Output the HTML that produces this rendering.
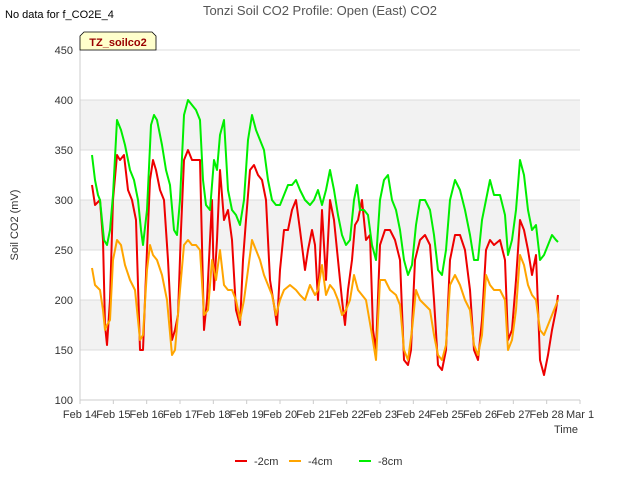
<!DOCTYPE html>
<html><head><meta charset="utf-8"><style>body{margin:0;background:#fff}svg{font-family:"Liberation Sans",sans-serif}</style></head>
<body>
<svg id="chart" width="640" height="480" xmlns="http://www.w3.org/2000/svg">
<text x="5" y="18" font-size="11" fill="#000">No data for f_CO2E_4</text>
<text x="320" y="15" font-size="13" fill="#555" text-anchor="middle">Tonzi Soil CO2 Profile: Open (East) CO2</text>
<g id="bands"></g>
<g id="axes"></g>
<g id="series"></g>
<g><path d="M80,50 L80,36 L84,32 L152,32 L156,36 L156,50 Z" fill="#ffffcc" stroke="#000" stroke-width="0.8"/><text x="118" y="46" font-size="11" font-weight="bold" fill="#990000" text-anchor="middle">TZ_soilco2</text></g>
<text transform="translate(18,225) rotate(-90)" font-size="11" fill="#333" text-anchor="middle">Soil CO2 (mV)</text>
<text x="566" y="433" font-size="11" fill="#333" text-anchor="middle">Time</text>
<g id="legend"></g>
</svg>
<script>
const yTicks=[100,150,200,250,300,350,400,450];
const xTickLabels=["Feb 14","Feb 15","Feb 16","Feb 17","Feb 18","Feb 19","Feb 20","Feb 21","Feb 22","Feb 23","Feb 24","Feb 25","Feb 26","Feb 27","Feb 28","Mar 1"];
const seriesNames=["-2cm","-4cm","-8cm"];
const red=[[.36,315],[.45,295],[.6,300],[.69,260],[.75,175],[.81,155],[.9,200],[.99,300],[1.11,345],[1.2,340],[1.32,345],[1.44,310],[1.56,300],[1.68,280],[1.8,150],[1.89,150],[2.01,250],[2.1,320],[2.19,340],[2.28,330],[2.4,310],[2.52,300],[2.64,240],[2.76,160],[2.85,170],[2.94,185],[3.03,270],[3.12,340],[3.24,350],[3.36,340],[3.48,340],[3.6,340],[3.72,170],[3.81,200],[3.9,260],[3.96,300],[4.02,210],[4.11,260],[4.2,330],[4.32,280],[4.44,290],[4.56,260],[4.68,190],[4.8,175],[4.89,240],[4.98,280],[5.1,330],[5.22,335],[5.34,325],[5.46,320],[5.58,300],[5.7,220],[5.82,195],[5.91,175],[6,230],[6.12,270],[6.24,270],[6.36,290],[6.48,300],[6.6,270],[6.75,230],[6.84,250],[6.96,270],[7.05,255],[7.14,200],[7.26,290],[7.38,220],[7.5,300],[7.62,280],[7.74,240],[7.86,200],[7.95,175],[8.04,210],[8.16,240],[8.25,275],[8.34,280],[8.46,300],[8.58,260],[8.7,265],[8.79,170],[8.88,150],[9,255],[9.15,270],[9.3,270],[9.45,260],[9.6,240],[9.72,140],[9.84,135],[9.93,150],[10.05,240],[10.2,260],[10.35,265],[10.5,255],[10.62,200],[10.74,135],[10.86,130],[10.98,150],[11.1,240],[11.25,265],[11.4,265],[11.55,250],[11.7,210],[11.82,150],[11.94,140],[12.06,180],[12.18,250],[12.3,260],[12.42,255],[12.6,260],[12.75,240],[12.84,160],[12.96,170],[13.08,220],[13.2,280],[13.32,270],[13.44,250],[13.56,225],[13.68,245],[13.8,140],[13.92,125],[14.04,145],[14.16,170],[14.28,190],[14.34,205]];
const orange=[[.36,232],[.45,215],[.6,210],[.69,190],[.75,170],[.81,175],[.9,180],[.99,240],[1.11,260],[1.23,255],[1.35,235],[1.5,220],[1.65,210],[1.8,160],[1.89,165],[2.01,230],[2.1,255],[2.19,245],[2.31,240],[2.46,225],[2.61,200],[2.76,145],[2.85,150],[3,210],[3.12,255],[3.24,260],[3.36,255],[3.48,255],[3.6,250],[3.72,185],[3.84,190],[3.96,240],[4.08,220],[4.2,250],[4.32,215],[4.44,210],[4.56,210],[4.68,200],[4.8,180],[4.92,200],[5.04,230],[5.16,260],[5.28,250],[5.4,240],[5.52,225],[5.64,215],[5.76,205],[5.88,185],[6,200],[6.12,210],[6.3,215],[6.48,210],[6.6,205],[6.75,200],[6.9,215],[7.05,205],[7.14,210],[7.26,235],[7.38,205],[7.5,215],[7.62,210],[7.74,200],[7.86,185],[7.98,190],[8.1,200],[8.22,225],[8.34,210],[8.46,205],[8.58,200],[8.76,165],[8.88,140],[9,220],[9.15,220],[9.3,210],[9.48,205],[9.6,195],[9.72,150],[9.84,140],[9.96,170],[10.08,210],[10.2,200],[10.35,195],[10.5,190],[10.62,165],[10.74,145],[10.86,140],[10.98,155],[11.1,215],[11.25,225],[11.4,215],[11.55,200],[11.7,190],[11.82,155],[11.94,145],[12.06,165],[12.18,225],[12.3,215],[12.42,210],[12.6,210],[12.75,200],[12.84,150],[12.96,160],[13.08,190],[13.2,245],[13.32,235],[13.44,215],[13.56,205],[13.68,200],[13.8,170],[13.92,165],[14.04,175],[14.16,185],[14.28,195],[14.34,200]];
const green=[[.36,345],[.45,320],[.54,305],[.6,300],[.72,260],[.81,255],[.9,270],[.99,305],[1.11,380],[1.23,370],[1.35,355],[1.5,330],[1.62,320],[1.74,300],[1.83,270],[1.89,255],[2.01,290],[2.13,375],[2.22,385],[2.31,380],[2.46,355],[2.58,330],[2.7,315],[2.82,270],[2.91,265],[3,300],[3.12,385],[3.24,400],[3.36,395],[3.48,390],[3.6,380],[3.69,320],[3.78,295],[3.9,290],[4.02,340],[4.11,330],[4.2,365],[4.32,380],[4.44,310],[4.56,290],[4.68,285],[4.8,275],[4.92,300],[5.04,360],[5.16,385],[5.28,370],[5.4,360],[5.52,350],[5.64,320],[5.76,300],[5.88,295],[6,295],[6.12,305],[6.24,315],[6.36,315],[6.48,320],[6.6,310],[6.75,300],[6.9,295],[7.02,300],[7.14,310],[7.26,295],[7.38,310],[7.5,330],[7.62,310],[7.74,285],[7.86,265],[7.98,255],[8.1,260],[8.22,300],[8.31,315],[8.4,290],[8.52,290],[8.64,285],[8.76,255],[8.88,240],[9,300],[9.12,320],[9.24,325],[9.36,300],[9.48,290],[9.6,270],[9.72,240],[9.84,225],[9.96,235],[10.08,275],[10.2,300],[10.35,300],[10.5,290],[10.62,265],[10.74,230],[10.86,225],[10.98,250],[11.1,300],[11.25,320],[11.4,310],[11.55,290],[11.7,265],[11.82,240],[11.94,240],[12.06,280],[12.18,300],[12.3,320],[12.42,305],[12.6,305],[12.75,285],[12.84,245],[12.96,260],[13.08,290],[13.2,340],[13.32,325],[13.44,290],[13.56,270],[13.68,275],[13.8,240],[13.92,245],[14.04,255],[14.16,265],[14.28,260],[14.34,258]];
const colors=["#ee0000","#ffa500","#00ee00"];
const L=80,R=580,T=50,B=400;
const xs=d=>L+d*(R-L)/15;
const ys=v=>B-(v-100)*(B-T)/350;
const NS="http://www.w3.org/2000/svg";
function mk(tag,attrs,parent){const e=document.createElementNS(NS,tag);for(const k in attrs)e.setAttribute(k,attrs[k]);parent.appendChild(e);return e;}
const bands=document.getElementById('bands'),axes=document.getElementById('axes'),ser=document.getElementById('series'),leg=document.getElementById('legend');
mk('rect',{x:L,y:T,width:R-L,height:B-T,fill:'#fff'},bands);
for(let i=0;i<yTicks.length-1;i++){if(i%2===1){const r=mk('rect',{x:L,y:ys(yTicks[i+1]),width:R-L,height:ys(yTicks[i])-ys(yTicks[i+1]),fill:'#f2f2f2'},bands);

}}
yTicks.forEach(v=>{const g=mk('line',{x1:L,x2:R,y1:ys(v),y2:ys(v),stroke:'#dcdcdc','stroke-width':1},axes);


const t=mk('text',{x:L-7,y:ys(v)+4,'font-size':11,fill:'#333','text-anchor':'end'},axes);t.textContent=v;

});
mk('line',{x1:L,x2:L,y1:T,y2:B,stroke:'#ccc'},axes);
mk('line',{x1:L,x2:R,y1:B,y2:B,stroke:'#ccc'},axes);
xTickLabels.forEach((lab,i)=>{mk('line',{x1:xs(i),x2:xs(i),y1:B,y2:B+4,stroke:'#ccc'},axes);
const t=mk('text',{x:xs(i),y:B+18,'font-size':11,fill:'#333','text-anchor':'middle'},axes);t.textContent=lab;

});
[red,orange,green].forEach((s,i)=>{const p=mk('polyline',{points:s.map(d=>xs(d[0]).toFixed(1)+','+ys(d[1]).toFixed(1)).join(' '),fill:'none',stroke:colors[i],'stroke-width':2,'stroke-linejoin':'round'},ser);

});
const lx=[235,289,359];
seriesNames.forEach((n,i)=>{const g=mk('g',{},leg);


mk('line',{x1:lx[i],x2:lx[i]+12,y1:461,y2:461,stroke:colors[i],'stroke-width':2},g);
const t=mk('text',{x:lx[i]+19,y:465,'font-size':11,fill:'#333'},g);t.textContent=n;});
</script>
</body></html>
